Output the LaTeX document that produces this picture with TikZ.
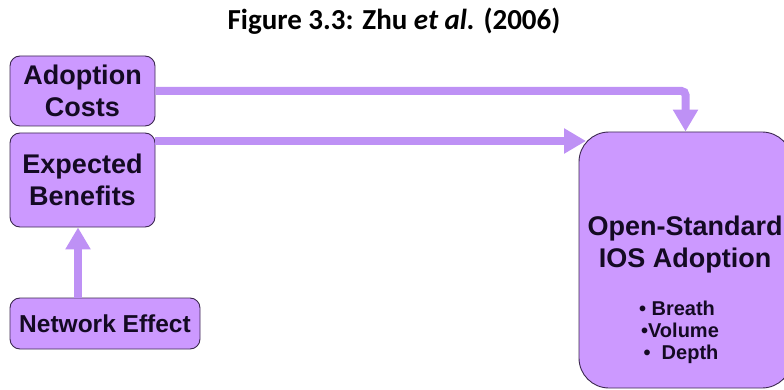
\documentclass[tikz,border=0pt]{standalone}
\usepackage{fontspec}
\setmainfont{Liberation Sans}
\newfontfamily\capfont{Carlito}
\usetikzlibrary{arrows.meta}
\definecolor{boxfill}{RGB}{204,153,255}
\definecolor{arrowfill}{RGB}{190,145,245}
\definecolor{edgeline}{RGB}{60,40,80}
\definecolor{ink}{RGB}{20,10,35}
\begin{document}
\begin{tikzpicture}[x=1pt,y=-1pt,
  card/.style={draw=edgeline, line width=0.9pt, fill=boxfill, rounded corners=10pt, inner sep=0pt},
  lbl/.style={font=\fontsize{27}{32}\selectfont\bfseries, text=ink, align=center},
  bul/.style={font=\fontsize{20}{22}\selectfont\bfseries, text=ink},
  flow/.style={draw=arrowfill, line width=8pt, -{Triangle[width=24pt,length=22pt]}}
]
\useasboundingbox (0,0) rectangle (784,390);

% caption
\node[font=\capfont\bfseries\fontsize{29}{32}\selectfont, anchor=base] (title) at (394,29.5)
  {Figure 3.3: Zhu \textit{et al.} (2006)};

% boxes
\path
  (82.5,91)   coordinate (acc)
  (82.5,180)  coordinate (ebc)
  (105,323.5) coordinate (nec)
  (685.5,260) coordinate (bigc);

\node[card, minimum width=145pt, minimum height=70pt, lbl] (ac) at (acc) {Adoption\\Costs};
\node[card, minimum width=145pt, minimum height=94pt, lbl] (eb) at (ebc) {Expected\\Benefits};
\node[card, minimum width=190pt, minimum height=51pt, lbl, font=\fontsize{24.5}{28}\selectfont\bfseries] (ne) at (nec) {Network Effect};
\node[card, rounded corners=30pt, minimum width=213pt, minimum height=256pt] (big) at (bigc) {};

% label of the outcome box
\node[lbl, anchor=base] (os1) at (685,235) {Open-Standard};
\node[lbl, anchor=base] (os2) at (685,267) {IOS Adoption};
\node[bul, anchor=base] (b1) at (677,315) {\textbullet\ Breath};
\node[bul, anchor=base] (b2) at (680,337) {\textbullet Volume};
\node[bul, anchor=base] (b3) at (681,359) {\textbullet\ \ Depth};

% connectors
\coordinate (hit) at (586,141);
\coordinate (ebin) at ([xshift=-4.5pt]eb.south);
\draw[flow, rounded corners=4pt] (ac.east) -| (big.north);
\draw[flow] (eb.east |- hit) -- (hit);
\draw[flow] (ne.north -| ebin) -- (ebin);
\end{tikzpicture}
\end{document}
